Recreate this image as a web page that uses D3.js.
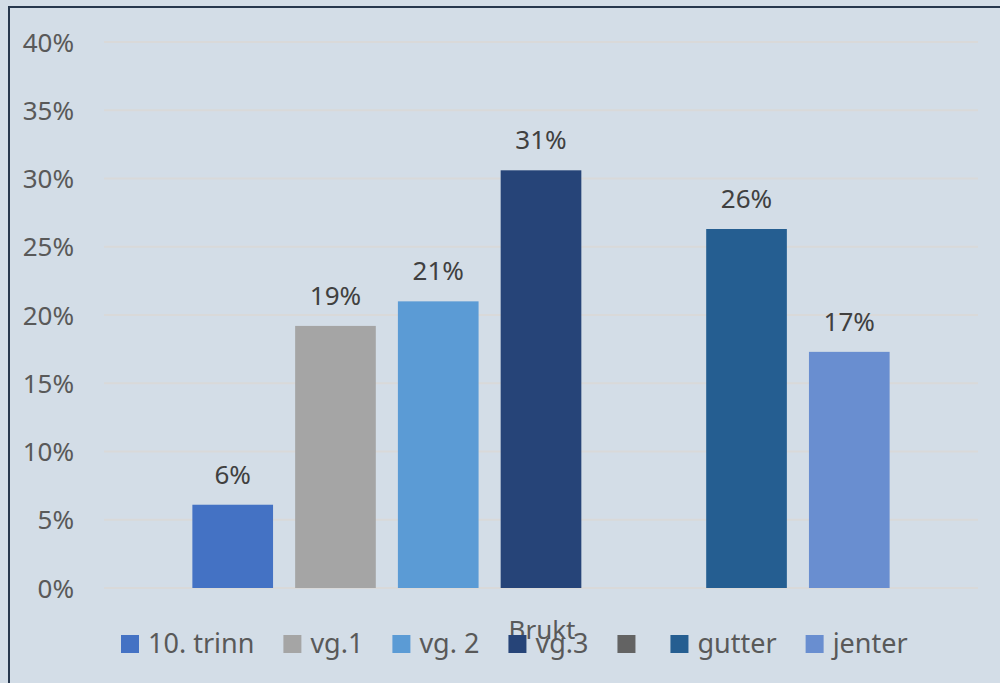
<!DOCTYPE html>
<html lang="no">
  <head>
    <meta charset="utf-8">
    <title>Brukt</title>
    <script src="https://cdn.jsdelivr.net/npm/d3@7"></script>
    <style>
      body { margin: 0; background: #d3dde7; }
      svg { display: block; font-family: "Noto Sans", sans-serif; }
    </style>
  </head>
  <body>
    <script>
    // series (one bar each, the 5th series is empty in the source)
    var series = ["10. trinn", "vg.1", "vg. 2", "vg.3", "", "gutter", "jenter"];
    var values = [6.1, 19.2, 21.0, 30.6, null, 26.3, 17.3];
    var colours = ["#4472c4", "#a5a5a5", "#5b9bd5", "#264478", "#636363", "#255e91", "#698ed0"];
    var yTicks = [0, 5, 10, 15, 20, 25, 30, 35, 40];
    var category = "Brukt";

    var w = 1000, h = 683;
    var plotLeft = 104, plotRight = 978, plotTop = 42, plotBottom = 588;

    var svg = d3.select("body").append("svg")
      .attr("width", w)
      .attr("height", h);

    svg.append("rect")
      .attr("x", 0).attr("y", 0)
      .attr("width", w).attr("height", h)
      .attr("fill", "#d3dde7");

    // outer chart border (runs off the picture on the right and bottom)
    svg.append("rect")
      .attr("x", 9).attr("y", 7)
      .attr("width", 1000).attr("height", 700)
      .attr("fill", "none")
      .attr("stroke", "#26374d")
      .attr("stroke-width", 2);

    var y = d3.scaleLinear().domain([0, 40]).range([plotBottom, plotTop]);
    var x = d3.scaleBand()
      .domain(d3.range(series.length))
      .range([plotLeft, plotRight])
      .paddingInner(0.215)
      .paddingOuter(0.86);

    // gridlines
    svg.append("g")
      .selectAll("line")
      .data(yTicks)
      .enter()
      .append("line")
      .attr("x1", plotLeft).attr("x2", plotRight)
      .attr("y1", function(d) { return y(d); })
      .attr("y2", function(d) { return y(d); })
      .attr("stroke", "#d9d9d9")
      .attr("stroke-width", 2);

    // y axis labels
    var yAxis = d3.axisLeft(y)
      .tickValues(yTicks)
      .tickSize(0)
      .tickPadding(0)
      .tickFormat(function(d) { return d + "%"; });

    var ya = svg.append("g")
      .attr("transform", "translate(74,0)")
      .call(yAxis);
    ya.select(".domain").remove();
    ya.attr("font-family", null).attr("font-size", null);
    ya.selectAll("text")
      .attr("fill", "#595959")
      .attr("font-size", 26)
      .attr("dy", "0.35em");

    var data = series.map(function(s, i) { return { name: s, value: values[i], colour: colours[i], i: i }; });
    var shown = data.filter(function(d) { return d.value != null; });

    svg.append("g")
      .selectAll("rect")
      .data(shown)
      .enter()
      .append("rect")
      .attr("x", function(d) { return x(d.i); })
      .attr("y", function(d) { return y(d.value); })
      .attr("width", x.bandwidth())
      .attr("height", function(d) { return y(0) - y(d.value); })
      .attr("fill", function(d) { return d.colour; });

    // data labels
    svg.append("g")
      .selectAll("text")
      .data(shown)
      .enter()
      .append("text")
      .attr("x", function(d) { return x(d.i) + x.bandwidth() / 2; })
      .attr("y", function(d) { return y(d.value) - 21; })
      .attr("text-anchor", "middle")
      .attr("fill", "#404040")
      .attr("font-size", 26)
      .text(function(d) { return Math.round(d.value) + "%"; });

    // category title
    svg.append("text")
      .attr("x", 542)
      .attr("y", 639)
      .attr("text-anchor", "middle")
      .attr("fill", "#595959")
      .attr("font-size", 26)
      .text(category);

    // legend
    var legend = svg.append("g");
    var lx = 121;
    data.forEach(function(d) {
      legend.append("rect")
        .attr("x", lx).attr("y", 635)
        .attr("width", 18).attr("height", 18)
        .attr("fill", d.colour);
      var t = legend.append("text")
        .attr("x", lx + 27)
        .attr("y", 653)
        .attr("fill", "#595959")
        .attr("font-size", 27)
        .text(d.name);
      var tw = d.name ? t.node().getComputedTextLength() : 0;
      lx = lx + 27 + tw + (d.name ? 29 : 26);
    });
    </script>
  </body>
</html>
